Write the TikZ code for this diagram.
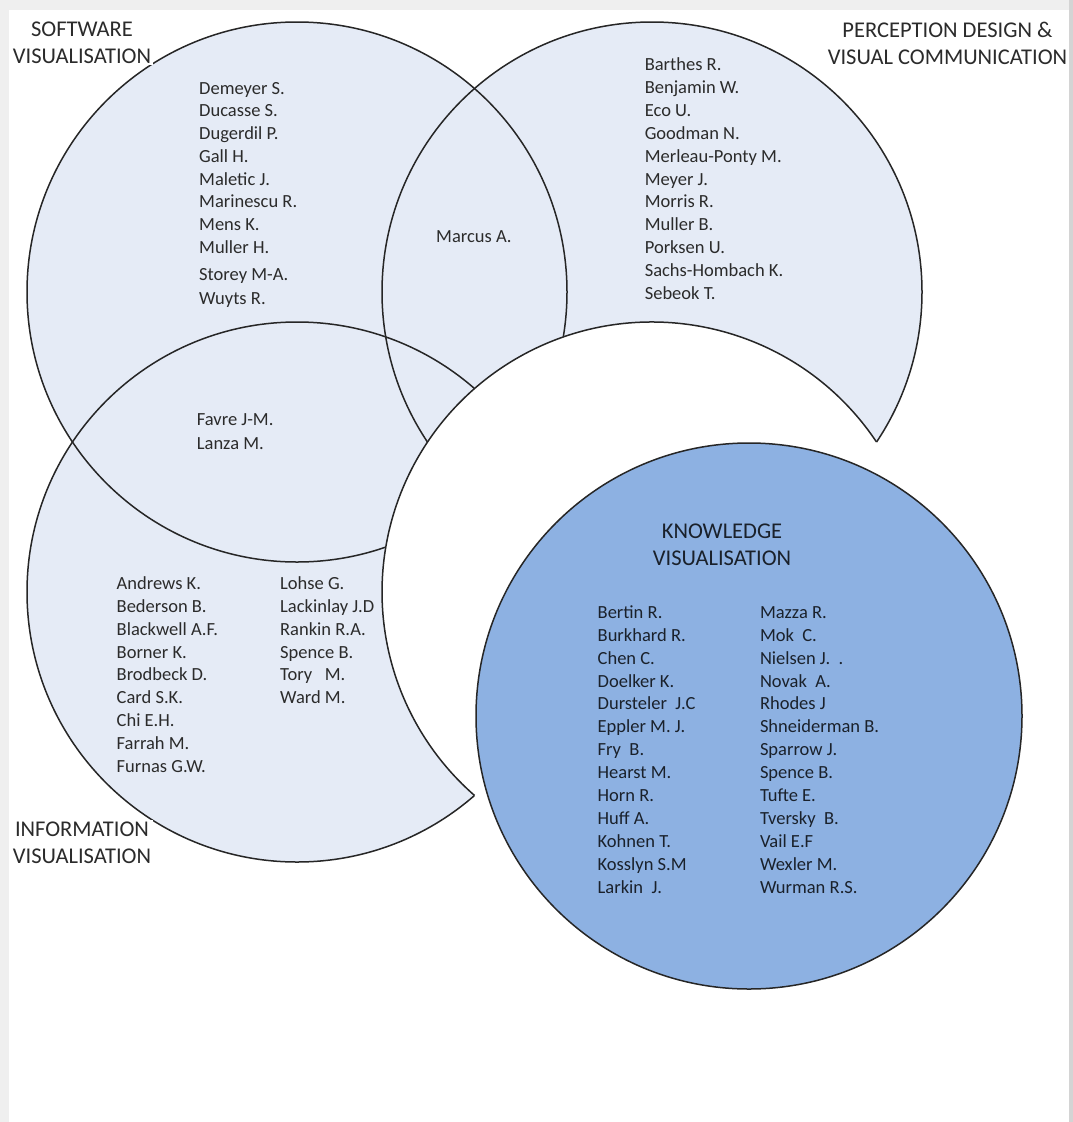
\documentclass[tikz,border=0pt]{standalone}
\usepackage{fontspec}
\setmainfont{Carlito}
\definecolor{setblue}{HTML}{E5EBF6}
\definecolor{kvblue}{HTML}{8DB1E2}
\definecolor{ringgray}{HTML}{262626}
\definecolor{namegray}{HTML}{2B2B2B}
\definecolor{kvtext}{HTML}{1A212B}
\definecolor{framegray}{HTML}{EFEFEF}
\definecolor{edgegray}{HTML}{D4D4D4}
\begin{document}
\begin{tikzpicture}[x=1pt,y=-1pt,
  ring/.style={draw=ringgray, line width=1.5pt},
  author/.style={anchor=base west, inner sep=0pt, font=\fontsize{18.5}{23}\selectfont, text=namegray},
  kvauthor/.style={author, text=kvtext},
  title/.style={anchor=north, align=center, inner sep=1.5pt, fill=white,
                font=\fontsize{22.5}{27}\selectfont, text=namegray}]
\useasboundingbox (0,0) rectangle (1073,1122);
% page and frame
\fill[white] (0,0) rectangle (1073,1122);
\fill[framegray] (0,0) rectangle (1073,10);
\fill[framegray] (0,0) rectangle (9,1122);
\fill[edgegray] (1069,0) rectangle (1073,1122);

% circle centres
\coordinate (sv) at (297,292);
\coordinate (pd) at (652,292);
\coordinate (iv) at (297,592);
\coordinate (wc) at (652,592);
\coordinate (kv) at (749,716);

% the three light sets
\fill[setblue] (sv) circle[radius=270] (pd) circle[radius=270] (iv) circle[radius=270];
\draw[ring] (sv) circle[radius=270];
\draw[ring] (pd) circle[radius=270];
\draw[ring] (iv) circle[radius=270];

% white cut-out and its visible rim
\fill[white] (wc) circle[radius=270];
\coordinate (cuspPD) at (876.5,442);
\draw[ring] (cuspPD) arc[start angle=-33.75, end angle=-228.9, radius=270];

% knowledge visualisation
\filldraw[ring, fill=kvblue] (kv) circle[radius=273];

% headings
\node[title] (svtitle) at (82,20) {SOFTWARE\\VISUALISATION};
\node[title] (pdtitle) at (947.5,20) {PERCEPTION DESIGN \&\\VISUAL COMMUNICATION};
\node[title] (ivtitle) at (82,820) {INFORMATION\\VISUALISATION};
\node[title, fill=none, text=kvtext] (kvtitle) at (722,522) {KNOWLEDGE\\VISUALISATION};

% software visualisation
\foreach \t/\y [count=\i] in {Demeyer S./94, Ducasse S./116.7, Dugerdil P./139.3,
    Gall H./162.3, Maletic J./185, Marinescu R./207.7, Mens K./230.7,
    Muller H./253.3, Storey M-A./280, Wuyts R./304}
  \node[author] (sv\i) at (199,\y) {\t};

% perception design
\foreach \t/\y [count=\i] in {Barthes R./70.7, Benjamin W./93.5, Eco U./116.5,
    Goodman N./139.3, Merleau-Ponty M./162.3, Meyer J./185, Morris R./207.7,
    Muller B./230.7, Porksen U./253.3, Sachs-Hombach K./276.5, Sebeok T./299.3}
  \node[author] (pd\i) at (644.6,\y) {\t};

% overlaps
\node[author] (marcus) at (436,242.7) {Marcus A.};
\node[author] (favre) at (196.7,425.7) {Favre J-M.};
\node[author] (lanza) at (196.7,449) {Lanza M.};

% information visualisation
\foreach \t [count=\i] in {Andrews K., Bederson B., Blackwell A.F., Borner K.,
    Brodbeck D., Card S.K., Chi E.H., Farrah M., Furnas G.W.}
  \node[author] (ivA\i) at (116.5,{589.3+22.9*(\i-1)}) {\t};
\foreach \t [count=\i] in {Lohse G., Lackinlay J.D, Rankin R.A., Spence B.,
    Tory\ \ \ M., Ward M.}
  \node[author] (ivB\i) at (280,{589.3+22.9*(\i-1)}) {\t};

% knowledge visualisation names
\foreach \t [count=\i] in {Bertin R., Burkhard R., Chen C., Doelker K.,
    Dursteler\ \ J.C, Eppler M. J., Fry\ \ B., Hearst M., Horn R., Huff A.,
    Kohnen T., Kosslyn S.M, Larkin\ \ J.}
  \node[kvauthor] (kvA\i) at (597.5,{618.3+22.9*(\i-1)}) {\t};
\foreach \t [count=\i] in {Mazza R., Mok\ \ C., Nielsen J.\ \ ., Novak\ \ A.,
    Rhodes J, Shneiderman B., Sparrow J., Spence B., Tufte E., Tversky\ \ B.,
    Vail E.F, Wexler M., Wurman R.S.}
  \node[kvauthor] (kvB\i) at (759.8,{618.3+22.9*(\i-1)}) {\t};
\end{tikzpicture}
\end{document}
